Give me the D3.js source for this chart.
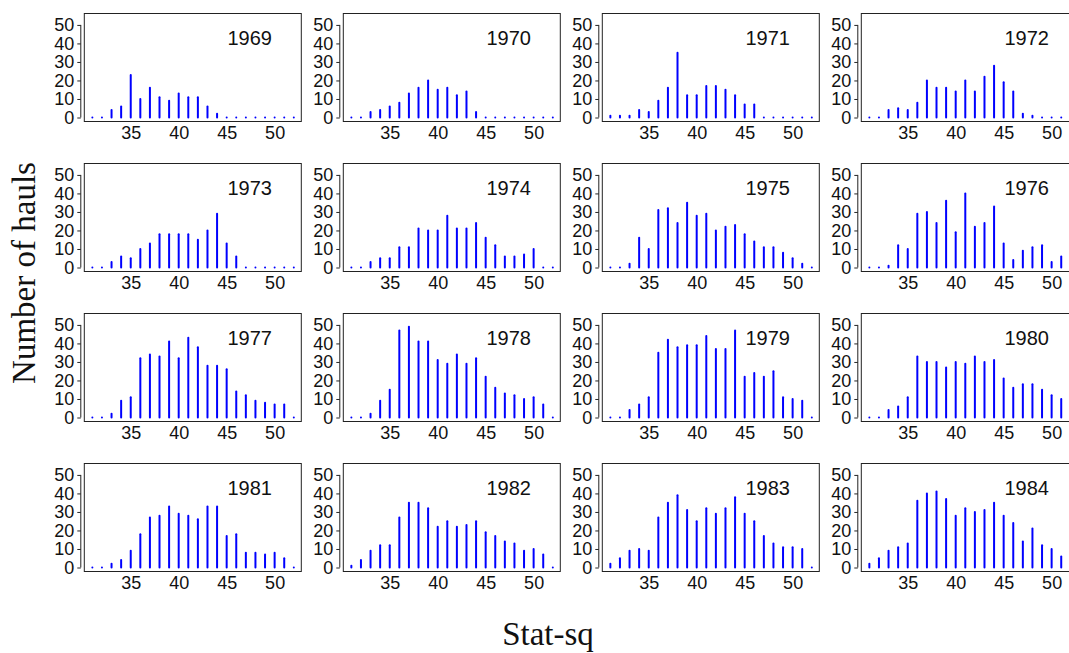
<!DOCTYPE html>
<html>
<head>
<meta charset="utf-8">
<script src="https://cdn.jsdelivr.net/npm/d3@7"></script>
<style>
  html, body { margin: 0; padding: 0; background: #fff; }
  svg { display: block; }
</style>
</head>
<body>
<svg id="chart" width="1069" height="653"></svg>
<script>
// Statistical squares (x positions of the spikes)
const statSq = [31, 32, 33, 34, 35, 36, 37, 38, 39, 40, 41, 42, 43, 44, 45, 46, 47, 48, 49, 50, 51, 52];

// Number of hauls per statistical square, one array per year
const hauls1969 = [0, 0, 4, 6, 23, 10, 16, 11, 9, 13, 11, 11, 6, 2, 0, 0, 0, 0, 0, 0, 0, 0];
const hauls1970 = [0, 0, 3, 4, 6, 8, 13, 16, 20, 15, 16, 12, 14, 3, 0, 0, 0, 0, 0, 0, 0, 0];
const hauls1971 = [1, 1, 1, 4, 3, 9, 16, 35, 12, 12, 17, 17, 15, 12, 7, 7, 0, 0, 0, 0, 0, 0];
const hauls1972 = [0, 0, 4, 5, 4, 8, 20, 16, 16, 14, 20, 14, 22, 28, 19, 14, 2, 1, 0, 0, 0, 0];
const hauls1973 = [0, 0, 3, 6, 5, 10, 13, 18, 18, 18, 18, 15, 20, 29, 13, 6, 0, 0, 0, 0, 0, 0];
const hauls1974 = [0, 0, 3, 5, 5, 11, 11, 21, 20, 20, 28, 21, 21, 24, 16, 12, 6, 6, 7, 10, 0, 0];
const hauls1975 = [0, 0, 2, 16, 10, 31, 32, 24, 35, 28, 29, 20, 22, 23, 18, 14, 11, 11, 8, 5, 2, 0];
const hauls1976 = [0, 0, 1, 12, 10, 29, 30, 24, 36, 19, 40, 22, 24, 33, 13, 4, 9, 11, 12, 3, 6, 4];
const hauls1977 = [0, 0, 2, 9, 11, 32, 34, 33, 41, 32, 43, 38, 28, 28, 26, 14, 12, 9, 8, 7, 7, 0];
const hauls1978 = [0, 0, 2, 9, 15, 47, 49, 41, 41, 31, 29, 34, 29, 32, 22, 16, 13, 12, 10, 11, 7, 0];
const hauls1979 = [0, 0, 4, 7, 11, 35, 42, 38, 39, 39, 44, 37, 37, 47, 22, 24, 22, 25, 11, 10, 9, 0];
const hauls1980 = [0, 0, 4, 6, 11, 33, 30, 30, 27, 30, 29, 33, 30, 31, 21, 16, 18, 18, 15, 12, 10, 0];
const hauls1981 = [0, 0, 2, 4, 9, 18, 27, 28, 33, 29, 28, 26, 33, 33, 17, 18, 8, 8, 7, 8, 5, 0];
const hauls1982 = [1, 4, 9, 12, 12, 27, 35, 35, 32, 22, 25, 22, 23, 25, 19, 17, 14, 13, 9, 10, 7, 0];
const hauls1983 = [2, 5, 9, 10, 9, 27, 35, 39, 31, 25, 32, 29, 32, 38, 29, 25, 17, 13, 11, 11, 10, 0];
const hauls1984 = [2, 5, 9, 11, 13, 36, 40, 41, 37, 28, 32, 30, 31, 35, 28, 24, 14, 21, 12, 10, 6, 0];

const years = [1969, 1970, 1971, 1972, 1973, 1974, 1975, 1976,
               1977, 1978, 1979, 1980, 1981, 1982, 1983, 1984];
const haulsByYear = [hauls1969, hauls1970, hauls1971, hauls1972, hauls1973, hauls1974, hauls1975, hauls1976,
                     hauls1977, hauls1978, hauls1979, hauls1980, hauls1981, hauls1982, hauls1983, hauls1984];

const xTicks = [35, 40, 45, 50];
const yTicks = [0, 10, 20, 30, 40, 50];

// Panel grid geometry
const panelW = 217, panelH = 108;
const gridLeft = 84.3, gridTop = 13.5;
const colStep = 259, rowStep = 150;
const nCols = 4;

const sansFont = "'Liberation Sans', Arial, Helvetica, sans-serif";
const serifFont = "'Liberation Serif', 'Times New Roman', serif";

const x = d3.scaleLinear().domain([30.16, 52.78]).range([0, panelW]);
const y = d3.scaleLinear().domain([-2.16, 56.16]).range([panelH, 0]);

const svg = d3.select("#chart");

years.forEach((year, i) => {
  const col = i % nCols, row = Math.floor(i / nCols);
  const g = svg.append("g")
    .attr("transform", `translate(${gridLeft + col * colStep},${gridTop + row * rowStep})`);

  const data = statSq.map((s, k) => ({ s, n: haulsByYear[i][k] }));

  // spikes
  g.append("g").selectAll("line")
    .data(data)
    .join("line")
    .attr("x1", d => x(d.s)).attr("x2", d => x(d.s))
    .attr("y1", y(0)).attr("y2", d => y(d.n))
    .attr("stroke", "#0000ff")
    .attr("stroke-width", 2)
    .attr("stroke-linecap", "round");

  // frame
  g.append("rect")
    .attr("x", 0).attr("y", 0)
    .attr("width", panelW).attr("height", panelH)
    .attr("fill", "none")
    .attr("stroke", "#222")
    .attr("stroke-width", 1);

  // y axis, offset from the frame, line only across the tick range
  const ya = g.append("g")
    .attr("transform", "translate(-3.5,0)")
    .call(d3.axisLeft(y).tickValues(yTicks).tickSize(3.5).tickPadding(3));
  ya.select(".domain").remove();
  ya.append("line")
    .attr("x1", 0).attr("x2", 0)
    .attr("y1", y(yTicks[0])).attr("y2", y(yTicks[yTicks.length - 1]))
    .attr("stroke", "#222");
  ya.selectAll(".tick line").attr("stroke", "#222");
  ya.selectAll("text")
    .attr("fill", "#111")
    .style("font-family", sansFont)
    .style("font-size", "18px");

  // x axis labels only
  const xa = g.append("g")
    .attr("transform", `translate(0,${panelH})`)
    .call(d3.axisBottom(x).tickValues(xTicks).tickSize(0).tickPadding(4.4));
  xa.select(".domain").remove();
  xa.selectAll("text")
    .attr("fill", "#111")
    .style("font-family", sansFont)
    .style("font-size", "18px");

  // year label
  g.append("text")
    .attr("x", x(47.4))
    .attr("y", y(39.15))
    .attr("text-anchor", "middle")
    .attr("fill", "#111")
    .style("font-family", sansFont)
    .style("font-size", "20px")
    .text(year);
});

// shared axis titles
svg.append("text")
  .attr("transform", "translate(35,273) rotate(-90)")
  .attr("text-anchor", "middle")
  .attr("fill", "#111")
  .style("font-family", serifFont)
  .style("font-size", "33px")
  .text("Number of hauls");

svg.append("text")
  .attr("x", 548)
  .attr("y", 645)
  .attr("text-anchor", "middle")
  .attr("fill", "#111")
  .style("font-family", serifFont)
  .style("font-size", "33px")
  .text("Stat-sq");
</script>
</body>
</html>
